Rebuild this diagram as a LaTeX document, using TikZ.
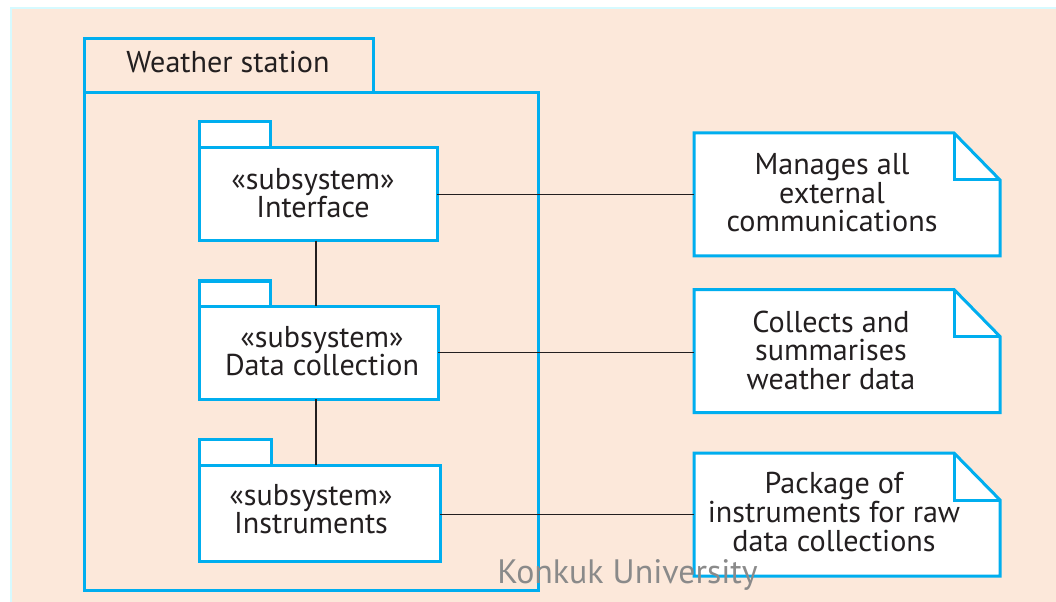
\documentclass[tikz,border=0pt]{standalone}
\usepackage{fontspec}
\setmainfont{PT Sans}
\definecolor{umlblue}{RGB}{0,174,239}
\definecolor{ink}{RGB}{35,31,32}
\definecolor{peach}{RGB}{252,232,218}
\definecolor{rim}{RGB}{214,250,255}
\definecolor{mark}{RGB}{138,138,138}
\tikzset{
  pkgbox/.style={draw=umlblue, line width=2.25pt, fill=white, inner sep=0pt, outer sep=0pt},
  framebox/.style={draw=umlblue, line width=2.25pt, inner sep=0pt, outer sep=0pt},
  notebox/.style={draw=none, inner sep=0pt, outer sep=0pt},
  noteline/.style={draw=umlblue, line width=2.25pt, line join=miter},
  lbl/.style={font=\fontsize{22.6}{21.4}\selectfont, text=ink, align=center, inner sep=0pt},
  conn/.style={draw=ink, line width=0.8pt},
  wm/.style={font=\fontsize{25.4}{24}\selectfont, text=mark, inner sep=0pt}
}
\begin{document}
\begin{tikzpicture}[x=0.75pt,y=-0.75pt]
\useasboundingbox (0,0) rectangle (1056,602);
% page background
\fill[white] (0,0) rectangle (1056,602);
\fill[rim] (10,7) rectangle (1056,602);
\fill[peach] (12,9) rectangle (1056,602);

% enclosing package: Weather station
\node[framebox, minimum width=454*0.75pt, minimum height=497*0.75pt] (ws) at (311,341.5) {};
\node[framebox, minimum width=289*0.75pt, minimum height=54*0.75pt] (wstab) at (228.5,66) {};
\node[lbl, anchor=base] (wslbl) at (228,73) {Weather station};

% subsystem packages
\node[pkgbox, minimum width=71*0.75pt, minimum height=26*0.75pt] (ifctab) at (234.5,135) {};
\node[pkgbox, minimum width=238*0.75pt, minimum height=93*0.75pt] (ifc) at (318,194.5) {};
\node[lbl] (ifclbl) at (313,193) {«subsystem»\\Interface};

\node[pkgbox, minimum width=71*0.75pt, minimum height=25*0.75pt] (dctab) at (234.5,293.5) {};
\node[pkgbox, minimum width=239*0.75pt, minimum height=93*0.75pt] (dc) at (318.5,352.5) {};
\node[lbl] (dclbl) at (322,351) {«subsystem»\\Data collection};

\node[pkgbox, minimum width=72*0.75pt, minimum height=26*0.75pt] (instab) at (235,452) {};
\node[pkgbox, minimum width=241*0.75pt, minimum height=96*0.75pt] (ins) at (319.5,513) {};
\node[lbl] (inslbl) at (311,509) {«subsystem»\\Instruments};

% notes with folded corner
\foreach \n/\cy in {n1/194.5, n2/351, n3/514.5} {
  \node[notebox, minimum width=306*0.75pt, minimum height=123*0.75pt] (\n) at (847,\cy) {};
  \path[noteline, fill=white] (\n.north west) -- ([xshift=-34.5pt]\n.north east)
    -- ([yshift=-35.25pt]\n.north east) -- (\n.south east) -- (\n.south west) -- cycle;
  \path[noteline] ([xshift=-34.5pt]\n.north east) -- ([xshift=-34.5pt,yshift=-35.25pt]\n.north east)
    -- ([yshift=-35.25pt]\n.north east);
}
\node[lbl] (n1lbl) at (832,193) {Manages all\\external\\communications};
\node[lbl] (n2lbl) at (831,350) {Collects and\\summarises\\weather data};
\node[lbl] (n3lbl) at (834,512) {Package of\\instruments for raw\\data collections};

% connectors
\coordinate (vx) at (316,0);
\draw[conn] (ifc.east) -- (ifc.east -| n1.west);
\draw[conn] (dc.east) -- (dc.east -| n2.west);
\draw[conn] (ins.east |- n3.west) -- (n3.west);
\draw[conn] (ifc.south -| vx) -- (dc.north -| vx);
\draw[conn] (dc.south -| vx) -- (ins.north -| vx);

% watermark
\node[wm, anchor=base west] (wmark) at (497,583) {Konkuk University};
\end{tikzpicture}
\end{document}
